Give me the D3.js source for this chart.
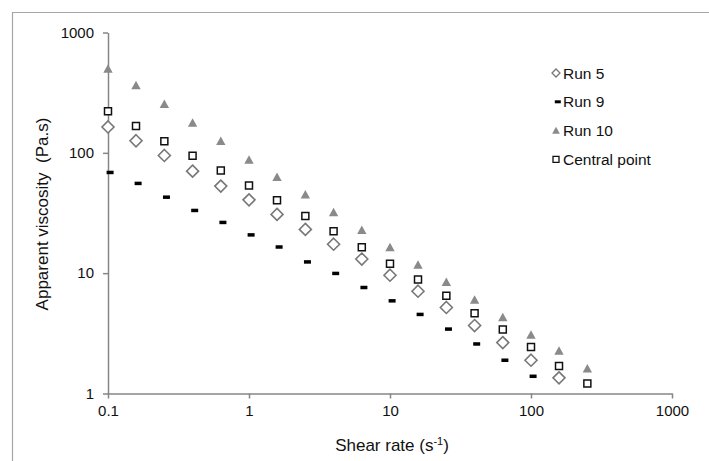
<!DOCTYPE html>
<html>
<head>
<meta charset="utf-8">
<script src="https://cdn.jsdelivr.net/npm/d3@7"></script>
<style>
  html, body { margin: 0; padding: 0; background: #fff; }
  svg { display: block; font-family: "Liberation Sans", Arial, sans-serif; }
</style>
</head>
<body>
<svg id="chart" width="709" height="461"></svg>
<script>
// Shear rates (s^-1), five points per decade
const shearRate = [0.1, 0.158, 0.251, 0.398, 0.631, 1, 1.58, 2.51, 3.98, 6.31,
                   10, 15.8, 25.1, 39.8, 63.1, 100, 158, 251];

// Apparent viscosity (Pa.s) per run
const run5 = [164, 126, 95.1, 70.4, 52.9, 40.7, 30.8, 23.1, 17.4, 13.1,
              9.62, 7.08, 5.19, 3.67, 2.65, 1.89, 1.35];
const run9 = [68.7, 55.7, 42.8, 33.2, 26.4, 20.8, 16.5, 12.4, 9.95, 7.60,
              5.89, 4.54, 3.43, 2.58, 1.89, 1.39];
const run10 = [497, 363, 254, 177, 125, 87.5, 62.8, 44.8, 32.0, 22.8,
               16.4, 11.7, 8.4, 6.0, 4.28, 3.07, 2.26, 1.61];
const centralPoint = [222, 167, 125, 94.4, 71.4, 53.6, 40.4, 29.8, 22.3, 16.4,
                      12.0, 8.87, 6.48, 4.65, 3.40, 2.43, 1.69, 1.21];

const seriesNames = ["Run 5", "Run 9", "Run 10", "Central point"];
const xTicks = [0.1, 1, 10, 100, 1000];
const yTicks = [1, 10, 100, 1000];
const xTitle = "Shear rate (s";
const xTitleSup = "-1";
const yTitle = "Apparent viscosity  (Pa.s)";

const svg = d3.select("#chart");

// Outer frame (top and left edges)
svg.append("path")
  .attr("d", "M12.5,461 V12.5 H709")
  .attr("fill", "none")
  .attr("stroke", "#a6a6a6")
  .attr("stroke-width", 1.2);

const x = d3.scaleLog().domain([0.1, 1000]).range([108, 672]);
const y = d3.scaleLog().domain([1, 1000]).range([393.5, 32.5]);

const fmt = d => (d < 1 ? d3.format(".1f")(d) : d3.format("d")(d));

const axisColor = "#868686";

const gx = svg.append("g")
  .attr("transform", `translate(0,${y.range()[0]})`)
  .call(d3.axisBottom(x).tickValues(xTicks).tickFormat(fmt)
        .tickSize(5).tickSizeOuter(0).tickPadding(7));
const gy = svg.append("g")
  .attr("transform", `translate(${x.range()[0]},0)`)
  .call(d3.axisLeft(y).tickValues(yTicks).tickFormat(fmt)
        .tickSize(5).tickSizeOuter(0).tickPadding(9));

[gx, gy].forEach(g => {
  g.select(".domain").attr("stroke", axisColor).attr("stroke-width", 1.5);
  g.selectAll(".tick line").attr("stroke", axisColor).attr("stroke-width", 1.5);
  g.selectAll(".tick text")
    .attr("fill", "#111")
    .style("font-size", "15px")
    .style("font-family", "'Liberation Sans', Arial, sans-serif");
});

// Marker shapes
const markers = {
  "Run 5": {
    path: s => `M0,${-s}L${s},0L0,${s}L${-s},0Z`,
    fill: "#fff", stroke: "#777", sw: 1.6, size: 6, lsize: 4
  },
  "Run 9": {
    path: s => `M${-s * 0.2},${-s * 0.25}H${s * 0.8}V${s * 0.25}H${-s * 0.2}Z`,
    fill: "#000", stroke: "none", sw: 0, size: 7, lsize: 6
  },
  "Run 10": {
    path: s => `M0,${-s * 0.55}L${s * 0.55},${s * 0.45}L${-s * 0.55},${s * 0.45}Z`,
    fill: "#8a8a8a", stroke: "none", sw: 0, size: 8.5, lsize: 7
  },
  "Central point": {
    path: s => `M${-s / 2},${-s / 2}H${s / 2}V${s / 2}H${-s / 2}Z`,
    fill: "#fff", stroke: "#111", sw: 1.5, size: 7, lsize: 6
  }
};

const seriesValues = [run5, run9, run10, centralPoint];
// Draw order: triangles first, then squares, diamonds, dashes
const drawOrder = [2, 3, 0, 1];

drawOrder.forEach(i => {
  const name = seriesNames[i];
  const m = markers[name];
  const pts = seriesValues[i].map((v, k) => ({ x: shearRate[k], y: v }));
  svg.append("g").attr("class", "series")
    .selectAll("path")
    .data(pts)
    .join("path")
    .attr("transform", d => `translate(${x(d.x)},${y(d.y)})`)
    .attr("d", m.path(m.size))
    .attr("fill", m.fill)
    .attr("stroke", m.stroke)
    .attr("stroke-width", m.sw);
});

// Legend
const legend = svg.append("g").attr("transform", "translate(556,73)");
seriesNames.forEach((name, i) => {
  const m = markers[name];
  const row = legend.append("g").attr("transform", `translate(0,${i * 28.8})`);
  row.append("path")
    .attr("d", m.path(m.lsize))
    .attr("fill", m.fill)
    .attr("stroke", m.stroke)
    .attr("stroke-width", m.sw ? 1.3 : 0);
  row.append("text")
    .attr("x", 7)
    .attr("y", 5.5)
    .attr("fill", "#111")
    .style("font-size", "15.5px")
    .text(name);
});

// Axis titles
const xt = svg.append("text")
  .attr("x", 392)
  .attr("y", 451)
  .attr("text-anchor", "middle")
  .attr("fill", "#111")
  .style("font-size", "17px");
xt.append("tspan").text(xTitle);
xt.append("tspan").attr("dy", -6).style("font-size", "11px").text(xTitleSup);
xt.append("tspan").attr("dy", 6).text(")");

svg.append("text")
  .attr("transform", "translate(48,214) rotate(-90)")
  .attr("text-anchor", "middle")
  .attr("fill", "#111")
  .style("font-size", "17px")
  .style("white-space", "pre")
  .attr("xml:space", "preserve")
  .text(yTitle);
</script>
</body>
</html>
